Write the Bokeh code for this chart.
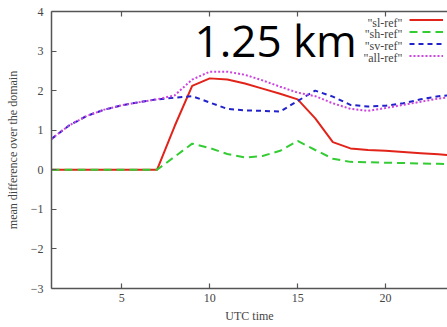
from bokeh.plotting import figure
from bokeh.models import (LinearAxis, FixedTicker, Label, Legend, LegendItem, Range1d)
from bokeh.embed import file_html
from bokeh.resources import INLINE

hours = list(range(1, 25))
sl_ref = [0, 0, 0, 0, 0, 0, 0, 1.1, 2.12, 2.31, 2.28, 2.18, 2.05, 1.92, 1.78, 1.3, 0.7, 0.54, 0.5, 0.48, 0.45, 0.42, 0.39, 0.36]
sh_ref = [0, 0, 0, 0, 0, 0, 0, 0.33, 0.66, 0.55, 0.4, 0.31, 0.35, 0.48, 0.73, 0.5, 0.28, 0.2, 0.19, 0.18, 0.17, 0.16, 0.15, 0.14]
sv_ref = [0.78, 1.12, 1.36, 1.52, 1.63, 1.71, 1.78, 1.82, 1.86, 1.7, 1.54, 1.5, 1.49, 1.47, 1.74, 2.0, 1.85, 1.64, 1.6, 1.62, 1.68, 1.78, 1.86, 1.9]
all_ref = [0.78, 1.12, 1.36, 1.52, 1.63, 1.71, 1.78, 1.88, 2.28, 2.48, 2.48, 2.4, 2.26, 2.1, 1.95, 1.86, 1.68, 1.54, 1.49, 1.56, 1.64, 1.72, 1.8, 1.86]

labels = ['"sl-ref"', '"sh-ref"', '"sv-ref"', '"all-ref"']
colors = ["#e2231a", "#33cc33", "#2222cc", "#cc44dd"]
dashes = ["solid", "8 5", "5 4", "2 2"]
series = [sl_ref, sh_ref, sv_ref, all_ref]

x_ticks = [5, 10, 15, 20]
y_ticks = [-3, -2, -1, 0, 1, 2, 3, 4]

SERIF = "Liberation Serif"
AX = "#555555"

p = figure(width=447, height=327, output_backend="svg", toolbar_location=None,
           x_range=Range1d(1, 23.52), y_range=Range1d(-3, 4),
           min_border_left=51, min_border_right=0, min_border_top=11, min_border_bottom=39)
p.outline_line_color = None
p.xgrid.visible = False
p.ygrid.visible = False
p.background_fill_color = "white"
p.border_fill_color = "white"

for ax in (p.xaxis[0], p.yaxis[0]):
    ax.major_tick_in = 5
    ax.major_tick_out = 0
    ax.minor_tick_line_color = None
    ax.axis_line_color = AX
    ax.axis_line_width = 1.5
    ax.major_tick_line_color = AX
    ax.major_tick_line_width = 1.2
    ax.major_label_text_font = SERIF
    ax.major_label_text_font_size = "12px"
    ax.major_label_text_color = "#444444"
    ax.axis_label_text_font = SERIF
    ax.axis_label_text_font_size = "12px"
    ax.axis_label_text_font_style = "normal"
    ax.axis_label_text_color = "#444444"

p.xaxis[0].ticker = FixedTicker(ticks=x_ticks)
p.yaxis[0].ticker = FixedTicker(ticks=y_ticks)
p.xaxis[0].axis_label = "UTC time"
p.yaxis[0].axis_label = "mean difference over the domain"
p.xaxis[0].major_label_standoff = 5
p.xaxis[0].axis_label_standoff = 4
p.yaxis[0].major_label_standoff = 8
p.yaxis[0].axis_label_standoff = 8

top = LinearAxis(ticker=FixedTicker(ticks=x_ticks),
                 major_label_overrides={t: "" for t in x_ticks},
                 major_tick_in=5, major_tick_out=0, minor_tick_line_color=None,
                 axis_line_color=AX, axis_line_width=1.5, major_tick_line_color=AX,
                 major_tick_line_width=1.2, major_label_standoff=0)
p.add_layout(top, "above")

renderers = []
for ys, c, d in zip(series, colors, dashes):
    r = p.line(hours, ys, line_color=c, line_width=2, line_dash=d)
    renderers.append(r)

legend = Legend(items=[LegendItem(label=" ", renderers=[r]) for r in renderers],
                location=(358, 227), glyph_width=34, glyph_height=11, label_height=11,
                label_width=0, label_standoff=0, spacing=1, padding=0, margin=0,
                border_line_color=None, background_fill_alpha=0,
                label_text_font_size="6px")
p.add_layout(legend)

for i, lab in enumerate(labels):
    p.add_layout(Label(x=351, y=266 - i * 11.7, x_units="screen", y_units="screen",
                       text=lab, text_font=SERIF, text_font_size="12px",
                       text_align="right", text_baseline="middle", text_color="#444444"))

p.add_layout(Label(x=143, y=249, x_units="screen", y_units="screen", text="1.25 km",
                   text_font="Open Sans", text_font_size="44px", text_color="black",
                   text_baseline="alphabetic"))

open("out.html", "w").write(file_html(p, INLINE))
